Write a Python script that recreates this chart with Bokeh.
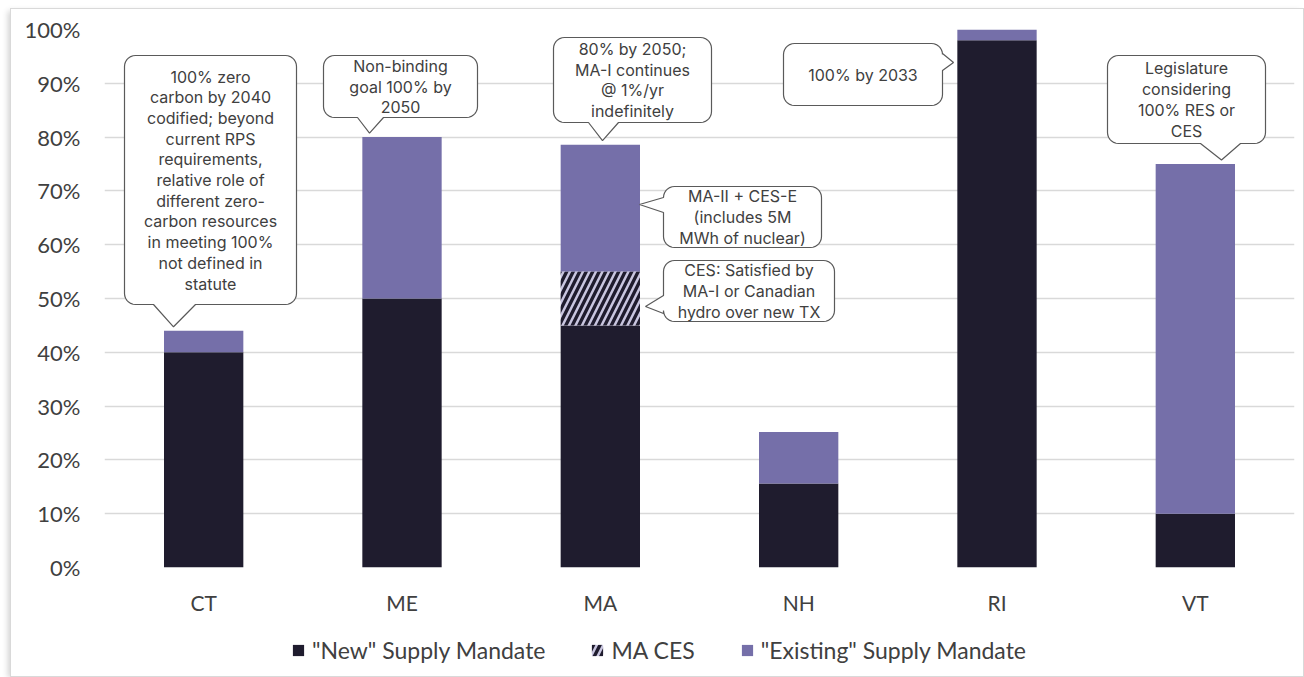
import numpy as np
from bokeh.plotting import figure
from bokeh.layouts import column
from bokeh.models import (ColumnDataSource, FactorRange, Range1d, FixedTicker,
                          PrintfTickFormatter, Legend, LegendItem)
from bokeh.core.properties import value
from bokeh.transform import stack
from bokeh.embed import file_html
from bokeh.resources import INLINE

# ---- data -------------------------------------------------------------
states = ["CT", "ME", "MA", "NH", "RI", "VT"]
new_supply = [40, 50, 45, 15.6, 98, 10]          # "New" supply mandate, %
ma_ces = [0, 0, 10, 0, 0, 0]                      # MA clean energy standard, %
existing_supply = [4, 30, 23.6, 9.6, 2, 65]       # "Existing" supply mandate, %
y_ticks = [0, 10, 20, 30, 40, 50, 60, 70, 80, 90, 100]
series_labels = ['"New" Supply Mandate', "MA CES", '"Existing" Supply Mandate']

callout_text = {
    "CT": ["100% zero", "carbon by 2040", "codified; beyond", "current RPS",
           "requirements,", "relative role of", "different zero-",
           "carbon resources", "in meeting 100%", "not defined in", "statute"],
    "ME": ["Non-binding", "goal 100% by", "2050"],
    "MA": ["80% by 2050;", "MA-I continues", "@ 1%/yr", "indefinitely"],
    "MA2": ["MA-II + CES-E", "(includes 5M", "MWh of nuclear)"],
    "MA3": ["CES: Satisfied by", "MA-I or Canadian", "hydro over new TX"],
    "RI": ["100% by 2033"],
    "VT": ["Legislature", "considering", "100% RES or", "CES"],
}

# ---- styling / geometry -------------------------------------------------
DARK = "#1f1c2e"
PURPLE = "#756fa9"
LAVENDER = "#c9c6e0"
TEXT = "#404040"
GRID = "#d9d9d9"

CANVAS_W = 1292
CHART_H, LEGEND_H = 617, 50
B_LEFT, B_RIGHT, B_TOP, B_BOTTOM = 93, 9, 20, 59
FRAME_W = CANVAS_W - B_LEFT - B_RIGHT
FRAME_H = CHART_H - B_TOP - B_BOTTOM
PX_X = FRAME_W / len(states)      # pixels per category
PX_Y = FRAME_H / 100.0            # pixels per percentage point
BAR_W = 0.4

p = figure(x_range=FactorRange(factors=states), y_range=Range1d(0, 100),
           width=CANVAS_W, height=CHART_H, output_backend="svg",
           toolbar_location=None,
           min_border_left=B_LEFT, min_border_right=B_RIGHT,
           min_border_top=B_TOP, min_border_bottom=B_BOTTOM)
p.outline_line_color = None
p.background_fill_color = "white"
p.border_fill_color = "white"

p.xgrid.grid_line_color = None
p.ygrid.grid_line_color = GRID
p.ygrid.grid_line_width = 1.4

p.yaxis.ticker = FixedTicker(ticks=y_ticks)
p.yaxis.formatter = PrintfTickFormatter(format="%d%%")
for ax in (p.xaxis, p.yaxis):
    ax.axis_line_color = None
    ax.major_tick_line_color = None
    ax.minor_tick_line_color = None
    ax.major_tick_out = 0
    ax.major_tick_in = 0
    ax.major_label_text_font = "Lato"
    ax.major_label_text_color = TEXT
p.yaxis.major_label_text_font_size = "22px"
p.yaxis.major_label_standoff = 24
p.xaxis.major_label_text_font_size = "21px"
p.xaxis.major_label_standoff = 22

# ---- stacked bars --------------------------------------------------------
src = ColumnDataSource(dict(state=states, new=new_supply, ces=ma_ces,
                            existing=existing_supply))
new_style = dict(fill_color=DARK, line_color=None)
ces_style = dict(fill_color=LAVENDER, hatch_pattern="/", hatch_color=DARK,
                 hatch_scale=13, hatch_weight=3.4, line_color=None)
exist_style = dict(fill_color=PURPLE, line_color=None)


def stacked_bars(fig):
    r1 = fig.vbar(x="state", width=BAR_W, bottom=0, top=stack("new"),
                  source=src, **new_style)
    r2 = fig.vbar(x="state", width=BAR_W, bottom=stack("new"),
                  top=stack("new", "ces"), source=src, **ces_style)
    r3 = fig.vbar(x="state", width=BAR_W, bottom=stack("new", "ces"),
                  top=stack("new", "ces", "existing"), source=src,
                  **exist_style)
    return r1, r2, r3


stacked_bars(p)

totals = {s: n + c + e for s, n, c, e in zip(states, new_supply, ma_ces, existing_supply)}


def bar_top_px(state):
    """Frame pixel y (from top) a few pixels above the top of a bar."""
    return (100 - totals[state]) * PX_Y - 4


# callout boxes in frame pixels (x from left, y from top)
callouts = [
    dict(key="CT", box=(20, 192, 26, 275), side="bottom", base=(49, 91),
         tip=(69, bar_top_px("CT"))),
    dict(key="ME", box=(219, 373, 26, 88), side="bottom", base=(253, 279),
         tip=(265, bar_top_px("ME"))),
    dict(key="MA", box=(449, 607, 8, 93), side="bottom", base=(484, 514),
         tip=(498, bar_top_px("MA"))),
    dict(key="MA2", box=(559, 717, 157, 218), side="left", base=(168, 183),
         tip=(535, 175)),
    dict(key="MA3", box=(559, 730, 231, 292), side="left", base=(266, 284),
         tip=(541, 277)),
    dict(key="RI", box=(679, 838, 14, 76), side="right", base=(24, 41),
         tip=(849, 33)),
    dict(key="VT", box=(1003, 1161, 26, 114), side="bottom", base=(1096, 1136),
         tip=(1117, bar_top_px("VT"))),
]


def arc(cx, cy, r, a0, a1, n=8):
    a = np.radians(np.linspace(a0, a1, n))
    return list(zip(cx + r * np.cos(a), cy + r * np.sin(a)))


def bubble(box, side, base, tip, rad=11):
    l, r, t, b = box
    pts = []
    pts += [(l + rad, t)]
    pts += arc(r - rad, t + rad, rad, -90, 0)
    if side == "right":
        pts += [(r, base[0]), tip, (r, base[1])]
    pts += arc(r - rad, b - rad, rad, 0, 90)
    if side == "bottom":
        pts += [(base[1], b), tip, (base[0], b)]
    pts += arc(l + rad, b - rad, rad, 90, 180)
    if side == "left":
        pts += [(l, base[1]), tip, (l, base[0])]
    pts += arc(l + rad, t + rad, rad, 180, 270)
    xs = [x / PX_X for x, _ in pts]
    ys = [100 - y / PX_Y for _, y in pts]
    return xs, ys


LINE_H = 20.7
bx, by, tx, ty, tt = [], [], [], [], []
for c in callouts:
    xs, ys = bubble(c["box"], c["side"], c["base"], c["tip"])
    bx.append(xs)
    by.append(ys)
    l, r, t, b = c["box"]
    lines = callout_text[c["key"]]
    cy = (t + b) / 2
    for i, line in enumerate(lines):
        yy = cy + (i - (len(lines) - 1) / 2) * LINE_H
        tx.append(((l + r) / 2) / PX_X)
        ty.append(100 - yy / PX_Y)
        tt.append(line)

p.patches(bx, by, fill_color="white", line_color="#5a5a5a", line_width=1.2)
p.text(x=tx, y=ty, text=tt, text_align="center", text_baseline="middle",
       text_font=value("Inter"), text_font_size="16px", text_color=TEXT)

# ---- legend strip under the chart ------------------------------------------
# Same series, same styles; its y range sits above the data so only the
# legend keys show.
leg = figure(width=CANVAS_W, height=LEGEND_H, output_backend="svg",
             toolbar_location=None, x_axis_type=None, y_axis_type=None,
             x_range=FactorRange(factors=states), y_range=Range1d(200, 201),
             min_border_left=0, min_border_right=0, min_border_top=0,
             min_border_bottom=0)
leg.outline_line_color = None
leg.border_fill_color = "white"
leg.xgrid.grid_line_color = None
leg.ygrid.grid_line_color = None
k_new, k_ces, k_exist = stacked_bars(leg)

legend = Legend(items=[LegendItem(label=series_labels[0], renderers=[k_new]),
                       LegendItem(label=series_labels[1], renderers=[k_ces]),
                       LegendItem(label=series_labels[2], renderers=[k_exist])],
                orientation="horizontal", location=(187, 12),
                glyph_width=14, glyph_height=14, label_height=14,
                label_standoff=7, spacing=45, padding=0, margin=0,
                border_line_color=None, background_fill_alpha=0,
                label_text_font="Lato", label_text_font_size="23px",
                label_text_color=TEXT)
leg.add_layout(legend)

layout = column(p, leg, spacing=0)
layout.styles = {"margin-left": "11px", "margin-top": "9px",
                 "box-shadow": "0 0 0 1px #d9d9d9, -3px 2px 6px rgba(0,0,0,0.18)"}

open("out.html", "w").write(file_html(layout, INLINE))
